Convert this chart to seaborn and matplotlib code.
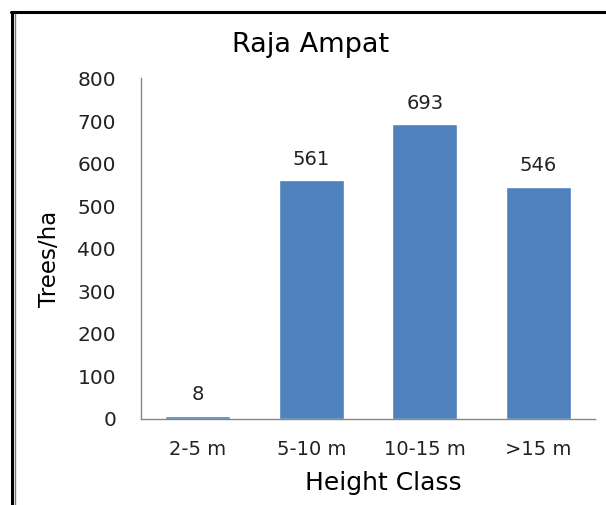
import matplotlib
matplotlib.use("Agg")
import matplotlib.pyplot as plt
from matplotlib.lines import Line2D
import seaborn as sns
import pandas as pd

categories = ["2-5 m", "5-10 m", "10-15 m", ">15 m"]
trees_per_ha = [8, 561, 693, 546]
y_ticks = [0, 100, 200, 300, 400, 500, 600, 700, 800]

sns.set_theme(style="white")
plt.rcParams['font.family'] = ['DejaVu Sans']

df = pd.DataFrame({"Height Class": categories, "Trees/ha": trees_per_ha})

fig = plt.figure(figsize=(6.06, 5.05), dpi=100)
ax = fig.add_axes([0.2327, 0.1703, 0.7491, 0.6743])

sns.barplot(data=df, x="Height Class", y="Trees/ha", color="#4F81BD",
            saturation=1, width=0.57, ax=ax)

ax.set_ylim(0, 800)
ax.set_yticks(y_ticks)
ax.set_yticklabels([str(t) for t in y_ticks], fontsize=14.5, color="#222222")
ax.set_xlim(-0.5, len(categories) - 0.5)
ax.tick_params(axis="x", labelsize=14, colors="#222222", length=0, pad=15)
ax.tick_params(axis="y", length=0, pad=18)

for c in ax.containers:
    ax.bar_label(c, labels=[str(v) for v in trees_per_ha], padding=8,
                 fontsize=14, color="#222222")

for s in ["top", "right"]:
    ax.spines[s].set_visible(False)
for s in ["left", "bottom"]:
    ax.spines[s].set_color("#868686")
    ax.spines[s].set_linewidth(1.0)

ax.set_xlabel("Height Class", fontsize=18, color="black")
ax.xaxis.set_label_coords(0.533, -64 / 341)
ax.xaxis.label.set_va("center")
ax.set_ylabel("Trees/ha", fontsize=16.5, color="black")
ax.yaxis.set_label_coords(-92 / 454, 0.47)
ax.yaxis.label.set_va("center")

fig.text(0.513, 0.911, "Raja Ampat", fontsize=19.5, ha="center", va="center", color="black")

# frame lines (top and left)
fig.add_artist(Line2D([11/606, 1.0], [1 - 12/505, 1 - 12/505], color="black", lw=2.2,
                      transform=fig.transFigure))
fig.add_artist(Line2D([12/606, 12/606], [0, 1 - 12/505], color="black", lw=2.2,
                      transform=fig.transFigure))
fig.add_artist(Line2D([15/606, 15/606], [0, 1 - 14/505], color="#777777", lw=1.0,
                      transform=fig.transFigure))

fig.savefig("out.png", dpi=100, facecolor="white")
